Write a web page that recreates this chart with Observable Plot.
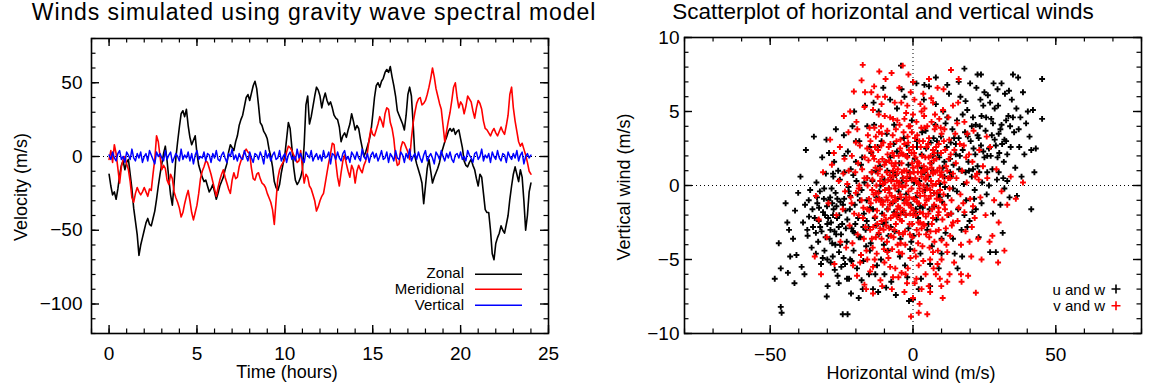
<!DOCTYPE html>
<html><head><meta charset="utf-8">
<script src="https://cdn.jsdelivr.net/npm/d3@7"></script>
<script src="https://cdn.jsdelivr.net/npm/@observablehq/plot@0.6"></script>
<style>
html,body{margin:0;padding:0;background:#fff}
#chart{position:relative;width:1153px;height:387px;overflow:hidden;font-family:"Liberation Sans",Arial,Helvetica,sans-serif;color:#000}
#chart > svg{position:absolute;top:0}
.t{position:absolute;white-space:nowrap;line-height:1;z-index:2}
</style></head><body><div id="chart"></div>
<script>
// ---------- data ----------
const leftTitle = "Winds simulated using gravity wave spectral model";
const rightTitle = "Scatterplot of horizontal and vertical winds";
const seriesNames = ["Zonal", "Meridional", "Vertical"];
const seriesColors = ["#000000", "#ff0000", "#0000ff"];
const scatterNames = ["u and w", "v and w"];
const timeTicks = [0, 5, 10, 15, 20, 25];
const velocityTicks = [-100, -50, 0, 50];
const horizTicks = [-50, 0, 50];
const vertTicks = [-10, -5, 0, 5, 10];

// samples every 0.1 h from 0 to 24 h
const zonal = [-12,-20,-26,-24,-29,-22,-13,-6,-3,-9,
 -4,-2,-12,-22,-35,-44,-53,-67,-60,-55,
 -50,-45,-42,-46,-47,-42,-37,-29,-20,-12,
 -5,2,7,-3,-15,-26,-33,-18,-1,10,
 20,29,31,27,32,21,13,8,11,14,
 2,-6,-10,-14,-17,-16,-20,-24,-22,-19,
 -24,-29,-25,-20,-17,-14,-9,-5,3,8,
 6,4,10,14,21,25,28,34,40,42,
 38,43,48,51,46,35,23,21,17,15,
 12,5,0,-7,-17,-21,-23,-19,-11,-5,
 1,12,23,19,6,-7,-16,-19,-17,-14,
 -9,8,35,41,22,27,34,41,47,45,
 41,33,39,43,38,35,37,33,28,26,
 25,20,10,14,16,13,18,22,29,24,
 18,21,19,12,6,0,3,7,11,17,
 28,40,48,50,47,51,53,57,59,57,
 61,54,48,41,31,28,25,22,18,28,
 42,47,41,22,0,-5,-9,-13,-18,-32,
 -20,-8,-2,-10,-18,-14,-11,-8,-4,2,
 6,10,13,17,19,17,19,15,17,18,
 12,6,-3,-6,-7,-4,-2,-6,-9,-15,
 -20,-12,-14,-25,-36,-38,-38,-50,-66,-70,
 -59,-55,-52,-47,-50,-52,-46,-40,-29,-20,
 -12,-7,-12,-17,-9,-14,-30,-50,-40,-24,
 -18];
const meridional = [-2,4,-4,8,2,-8,-18,-7,-2,0,
 -5,-9,-17,-28,-31,-25,-21,-24,-26,-24,
 -21,-24,-27,-22,-23,-12,-2,14,10,0,
 -9,-6,-8,-16,-19,-12,-15,-24,-28,-31,
 -35,-41,-38,-32,-27,-23,-30,-38,-43,-38,
 -33,-25,-15,-10,-7,-3,-4,-8,-12,-17,
 -22,-27,-21,-16,-12,-9,-14,-18,-22,-25,
 -16,-11,-15,-14,-7,-3,0,3,5,3,
 2,-8,-15,-16,-12,-11,-15,-18,-19,-21,
 -25,-28,-31,-36,-46,-30,-15,-9,-6,-4,
 -2,3,7,6,4,1,-1,-4,-3,4,
 -8,-18,-12,-14,-20,-22,-26,-30,-37,-34,
 -30,-27,-25,-18,-11,-4,2,9,8,-4,
 -14,-20,-11,-3,1,-5,-10,-14,-6,-9,
 -18,-10,-6,-9,-11,-6,-3,3,12,19,
 15,14,18,22,27,24,20,29,33,32,
 23,19,12,0,-6,-5,6,10,9,6,
 3,-2,12,23,30,36,39,40,35,36,
 38,42,47,53,60,54,46,41,36,32,
 21,10,17,24,30,38,47,50,40,33,
 37,35,29,34,41,39,37,31,26,33,
 38,36,32,24,19,18,16,14,17,19,
 16,14,17,20,17,15,21,28,42,47,
 33,24,17,10,7,9,5,1,-4,-10,
 -12];
const vertical = [1,-2,3,-1,-3,2,4,-2,0,-4,3,1,-2,5,-1,-3,2,-1,3,-4,
 0,2,-3,4,1,-2,-5,3,0,2,-1,-3,4,-2,1,3,-4,-1,2,0,
 -3,5,-2,1,-1,3,-3,2,-5,1,4,-2,0,-1,3,-3,2,1,-4,2,
 -1,4,-2,-3,1,3,-1,-4,2,0,5,-2,1,-3,2,-1,-2,4,0,-3,
 3,-1,-4,2,1,-2,3,0,-5,4,-1,2,-3,1,3,-2,-1,4,-3,0,
 2,-4,1,3,-2,0,-3,5,-1,2,-2,-4,3,1,-1,4,-3,0,2,-2,
 1,-3,4,-1,0,3,-5,2,1,-2,3,-1,-3,2,4,-2,0,-4,3,1,
 -2,3,-1,-3,5,0,-2,2,-4,1,3,-1,2,-3,0,4,-2,-1,3,-4,
 2,0,-3,4,-1,-2,3,1,-4,2,-1,5,-3,0,2,-2,3,-1,-4,1,
 4,-3,0,2,-1,-5,3,1,-2,4,0,-3,2,-1,3,-2,-4,1,2,-1,
 3,-2,0,-3,4,1,-1,-4,2,3,-2,0,5,-3,1,-1,2,-4,3,0,
 -2,4,-1,-3,2,1,-4,3,0,-2,2,-1,4,-3,1,3,-5,0,2,-1,
 1];

// scatter: flat (horizontal, vertical) pairs
const uwPoints = [
-48.4,-6.3,-46.3,-8.2,-46,-8.6,-47,-3.9,-46.3,-5.6,-44.6,-1.2,-43.4,-3,-43,-4.8,-41.3,-1.7,-40.2,-0.5,
-39.4,0.6,-37.5,2.4,-42,-3.6,-40.8,-4.7,-39,-5.5,-38.5,-2.5,-37.8,-1.3,-36.9,-3.4,-36,-0.3,-35.5,-4.2,
-38,-6.0,-41.5,-6.6,-36.4,-2.1,-35.2,-1.6,-37,-3.0,-44,-2.5,-43.8,-5.9,
-34.7,3.3,-33.5,-1.2,-33,-2.4,-32.6,-0.4,-32,-3.1,-31.5,-1.8,-31,-4.4,-30.5,0.8,-30.2,-7.5,-30.3,3.1,
-30,-2.6,-29.6,-1.0,-29.2,-3.6,-28.8,-5.2,-28.5,-0.2,-28,-2.0,-27.6,1.6,-27,3.8,-27.2,-4.0,-26.8,-1.4,
-26.4,-6.1,-26,-2.8,-25.6,0.4,-25.2,-3.3,-34,-4.6,-33.8,0.2,-32.2,-5.3,-31.8,1.9,-30.8,-2.0,-29.9,-6.8,
-29,-0.8,-28.3,-3.9,-27.8,-1.6,-27.4,-5.7,-26.6,-2.2,-25.9,-4.5,-25.4,-1.1,-33.2,-3.8,-31.2,-0.9,-29.4,2.2,
-28.1,-4.8,-26.2,1.0,-34.4,-2.2,-32.9,-1.5,-30.6,-3.5,-28.7,-2.5,-27.1,-0.5,-25.8,-2.0,
-24.6,-8.7,-22.9,-8.7,-24.8,-2.6,-24.3,-4.9,-24,0.9,-23.6,-1.7,-23.2,-3.8,-22.8,2.3,-22.4,-6.3,-22,-0.7,
-21.7,-7.3,-21.5,-2.9,-21.2,4.0,-20.8,-4.4,-20.4,-1.3,-20,1.6,-19.6,-5.6,-19.2,-2.2,-18.8,3.0,-18.4,-3.5,
-18,-0.3,-17.6,-7.0,-17.2,-1.9,-16.8,5.4,-16.4,-4.1,-16,0.5,-15.6,-2.8,-15.2,2.6,-23.8,-5.3,-22.6,-0.1,
-21.0,-3.1,-19.8,0.3,-18.6,-1.0,-17.4,-5.1,-16.2,-2.4,-15.4,-6.0,-24.2,3.4,-20.6,5.0,-19.0,-7.6,-17.8,1.9,
-16.6,-3.0,-23.0,-2.3,-21.8,1.1,-20.2,-2.6,-18.2,-4.7,
-14.8,-3.9,-14.4,0.9,-14,-1.6,-13.6,4.1,-13.2,-6.0,-12.8,-0.8,-12.4,2.6,-12,-3.3,-11.6,1.3,-11.2,-5.0,
-10.8,-1.9,-10.4,6.6,-10,0.4,-9.6,-2.5,-9.2,3.5,-8.8,-4.4,-8.4,-0.2,-8,1.9,-7.6,-6.5,-7.2,-1.2,
-6.8,2.8,-6.4,-3.1,-6,0.7,-5.6,5.2,-5.2,-2.0,-14.6,2.2,-13.0,-2.7,-11.8,-0.4,-10.2,-4.0,-9.0,1.0,
-7.8,-2.8,-6.6,4.1,-5.4,-0.9,-4.2,8.1,-12.2,-7.2,-9.4,-6.9,-13.8,5.6,-11.0,3.0,
-4.8,1.5,-4.4,-3.6,-4,0.2,-3.6,-1.8,-3.2,3.2,-2.8,-5.4,-2.4,-0.6,-2,2.0,-1.6,-2.9,-1.4,-7.8,
-1.2,0.9,-0.8,-1.3,-0.4,4.4,0,-7.7,0.2,-3.4,0.6,1.8,1,-0.8,1.4,3.0,1.8,-2.2,2.2,0.3,
2.6,-4.6,3,1.2,3.4,-1.5,3.8,5.8,4.2,-0.3,4.6,2.5,5,-3.0,-3.0,6.0,-1.0,-4.3,1.2,6.9,
2.8,-6.3,4.0,0.9,-2.2,2.7,0.8,-1.9,3.2,3.6,
5.4,0.6,5.6,6.7,5.8,-1.6,6.2,2.9,6.6,-4.1,7,1.0,7.4,-0.5,7.8,4.1,8.2,-2.3,8.6,2.2,
9,-5.6,9.4,0.1,9.8,3.3,10.2,-1.1,10.6,5.0,11,1.6,11.4,-3.2,11.8,2.6,12.2,-0.7,12.6,6.2,
13,0.9,13.4,-1.9,13.8,3.8,14.2,1.4,14.6,-4.6,15,2.1,6.0,-6.8,8.0,7.3,10.0,-3.6,12.0,4.6,
14.0,-0.2,9.2,1.9,11.2,-0.1,13.2,2.9,7.2,3.2,
15.4,4.4,15.8,-1.6,16.2,1.1,16.6,6.0,17,-3.0,17.4,2.4,17.8,0.1,18,7.9,18.2,3.6,18.6,-1.0,
19,5.1,19.4,1.6,19.8,-2.4,20.2,3.0,20.6,0.6,21,4.6,21.4,-0.9,21.8,2.1,22.2,6.6,22.6,7.5,
22.6,1.3,23,-3.5,23.4,4.0,23.8,7.5,23.8,2.7,24.2,0.2,24.6,5.4,25,1.9,16.0,3.2,17.2,-4.8,
19.2,3.3,20.8,-1.8,22.0,4.1,24.0,-1.2,18.4,5.7,21.2,2.5,23.2,0.9,15.6,-5.6,20.0,6.9,
25.4,3.7,25.8,-0.6,26.2,6.1,26.6,2.5,27,-4.5,27.4,4.5,27.8,1.1,28.2,6.9,28.6,3.1,29,-4.5,
29.4,0.4,29.8,5.4,30.2,2.2,30.6,-1.3,31,4.1,31.4,-3.2,31.8,1.6,32.2,6.2,32.6,3.0,33,0.3,
33.4,4.7,33.8,-0.8,34.2,2.6,34.6,5.8,35,7.5,26.0,0.9,28.0,-1.9,30.0,3.5,32.0,-0.2,34.0,4.0,
27.2,2.0,29.6,6.5,31.2,2.8,33.6,6.4,
35.4,3.6,35.8,1.2,36.2,5.2,36.8,7.3,37.2,2.6,37.6,4.6,38.5,6.3,39,2.1,39.6,4.2,40.2,5.0,
41.4,2.4,41.4,-1.6,42,5.1,42.5,0.9,43,2.5,45.2,7.2,45.2,4.5,36.4,-0.7,38.0,0.6,40.8,3.3,
-20.5,-3.2,-19.4,-0.6,-18.2,1.4,-17.4,-2.8,-16.2,-1.0,-15.1,-4.4,-14.2,0.3,-13.4,-2.2,-12.6,-5.4,-11.4,0.0,
-10.4,-2.6,-9.6,1.6,-8.6,-3.4,-7.6,0.4,-6.6,-1.8,-5.6,2.3,-4.6,-4.8,-3.6,0.5,-2.6,-2.0,-1.6,1.4,
-0.6,-3.8,0.4,0.2,1.4,2.6,2.4,-1.4,3.4,0.9,4.4,3.7,5.4,-2.6,6.4,1.5,7.4,-1.4,8.4,3.0,
9.4,-0.8,10.4,1.2,11.4,4.2,12.4,-2.0,13.4,0.6,14.4,3.2,15.4,-0.4,16.4,2.0,17.4,4.8,18.4,0.9,
-32.5,-2.8,-31.1,-0.2,-29.7,-2.2,-28.3,-1.2,-27.5,-3.1,-26.5,-0.9,-25.5,-4.0,-24.5,-1.3,-23.5,-2.9,-22.5,-0.4,
-21.5,-5.1,-20.9,0.7,-36.5,-1.0,-35.0,-2.8,-33.6,-0.8,-31.6,-4.9,-30.1,-1.4,-28.9,-3.0,-27.9,0.6,-26.9,-3.3,
-25.1,-5.5,-24.1,-0.9,-23.1,-6.3,-22.1,-1.6,
19.6,1.0,20.6,4.0,21.6,-0.3,22.6,3.4,23.6,5.8,24.6,2.3,25.6,4.6,26.6,0.0,27.6,3.4,28.6,5.2,
29.6,1.9,30.6,3.8,31.6,0.5,32.6,4.4,19.0,-2.8,21.0,1.1,23.0,3.2,25.0,6.3,27.0,5.6,29.0,2.7,
31.0,6.9,33.0,2.1,35.0,4.6,37.0,3.8,22.0,-1.6,24.0,4.7,26.0,2.0,28.0,4.2,30.0,0.9,32.0,3.1,
-12,5.0,-8,5.8,-4,6.5,0,7.0,4,6.8,8,5.5,12,6.8,16,7.0,-16,4.0,-20,3.0,
-24,2.0,-28,0.8,-14,-7.0,-10,-6.0,-6,-7.4,-2,-6.2,2,-7.0,6,-5.3,10,-4.6,14,-3.6,
18,-2.0,-18,-6.4,-22,-5.0,-26,-6.6,-30,-5.0,-34,-3.2,
-11,-1.0,-9,-1.6,-7,0.9,-5,-0.4,-3,-1.0,-1,0.5,1,-1.6,3,2.1,5,0.0,7,2.0,
9,-0.6,11,0.6,13,1.8,-13,1.0,-15,-1.5,-17,0.2,-19,-3.5,15,2.8,17,1.0,19,3.5];

const vwPoints = [
-34,-0.7,-34.4,-4.8,-27.7,2.2,-24.2,4.7,-33,-2.3,-31.5,0.9,-30.2,-3.5,-29.6,-1.2,-28.4,1.4,-27.5,-5.3,
-26.8,-2.0,-26,0.3,-25.4,-3.8,-32.2,-6.0,-29,3.1,-25.6,2.6,
-20.7,6.35,-17.6,8.15,-17,-6.7,-16.4,-7,-24.6,-1.6,-24,1.8,-23.4,-4.2,-23,0.1,-22.6,3.6,-22.2,-2.7,
-21.8,-0.8,-21.4,2.0,-21,-5.4,-20.6,-1.9,-20.2,0.9,-19.8,4.3,-19.4,-3.3,-19,-0.2,-18.6,2.7,-18.2,-4.7,
-17.8,1.1,-17.4,-1.5,-17,5.3,-16.6,-2.8,-16.2,0.5,-15.8,3.4,-15.4,-0.9,-15,-5.8,-18.0,7.1,-16.8,6.3,
-22.0,5.0,-19.6,-6.1,-23.8,-0.4,-20.0,2.9,-17.2,-3.6,-15.6,1.7,-21.2,-3.9,-18.8,0.0,-16.0,-1.6,-24.4,0.8,
-19.2,1.5,-15.2,3.9,
-14.8,-1.2,-14.6,2.3,-14.4,-3.6,-14.2,0.4,-14,5.1,-13.8,-0.6,-13.6,1.8,-13.4,-5.0,-13.2,-2.1,-13,3.3,
-12.8,0.0,-12.6,-1.7,-12.4,6.0,-12.2,2.4,-12,-3.2,-11.8,-0.9,-11.6,1.1,-11.4,-6.4,-11.2,4.0,-11,-2.4,
-10.8,0.6,-10.6,-1.3,-10.4,2.9,-10.2,-4.3,-10,1.4,-9.8,-0.3,-9.6,7.2,-9.4,-2.7,-9.2,0.9,-9,3.7,
-8.8,-1.6,-8.6,-4.9,-8.4,1.7,-8.2,-0.5,-8,4.6,-7.8,-2.2,-7.6,0.3,-7.4,-7.0,-7.2,2.2,-7,-1.1,
-6.8,-3.5,-6.6,1.3,-6.4,5.6,-6.2,-0.2,-6,-2.6,-5.8,3.0,-5.6,0.8,-5.4,-4.0,-5.2,-1.4,-5,2.0,
-14.1,-4.2,-13.1,1.2,-12.1,-0.5,-11.1,2.7,-10.1,-2.0,-9.1,-3.8,-8.1,0.7,-7.1,3.4,-6.1,-1.9,-5.1,-6.2,
-13.5,3.9,-11.5,-2.9,-9.5,1.6,-7.5,-0.7,-5.5,4.4,-12.9,-1.0,-10.9,3.5,-8.9,-1.0,-6.9,0.6,-14.5,0.9,
-12.5,-2.6,-10.5,0.1,-8.5,2.6,-6.5,-3.0,
-4.8,0.2,-4.6,-2.3,-4.4,3.1,-4.2,-0.8,-4,1.5,-3.8,-4.6,-3.6,8.1,-3.4,0.5,-3.2,-1.7,-3,2.8,
-2.8,-3.1,-2.6,0.0,-2.4,4.9,-2.2,-1.0,-2,1.9,-1.8,-5.6,-1.6,-0.4,-1.4,2.4,-1.2,-2.6,-1,0.8,
-0.8,6.3,-0.7,-8.85,-0.6,-1.5,-0.4,3.6,-0.2,-3.5,0,1.2,0.2,-0.9,0.4,2.2,0.6,-6.6,0.8,0.5,
1,-2.0,1.2,4.3,1.4,-1.1,1.6,1.6,1.8,-3.9,2,0.1,2.2,3.0,2.3,-8.0,2.4,-1.8,2.6,5.5,
2.8,0.9,3,-2.9,3.2,2.0,3.4,-0.4,3.6,-5.1,3.8,1.3,4,3.9,4.2,-1.3,4.4,0.4,4.6,-3.3,
4.8,2.6,5,-8.7,-4.5,-1.5,-3.5,2.1,-2.5,-2.0,-1.5,4.0,-0.5,-0.2,0.5,-4.4,1.5,3.4,2.5,-0.7,
3.5,1.0,4.5,-2.1,-4.1,5.6,-2.1,-6.6,0.1,7.0,1.9,-2.5,3.9,4.7,-3.9,0.9,-1.9,-1.2,0.3,0.9,
2.1,1.5,4.1,-0.7,-4.3,-3.9,-2.3,1.0,-0.3,-2.6,1.7,0.2,3.7,-2.6,
5.2,0.7,5.4,-1.9,5.6,3.2,5.8,-4.2,6,1.5,6.2,-0.7,6.4,5.9,6.6,-2.6,6.8,0.0,7,2.4,
7.2,-5.6,7.4,-1.3,7.6,3.8,7.8,0.9,8,-3.1,8.2,1.8,8.4,-0.5,8.6,6.6,8.8,-2.0,9,0.3,
9.2,4.5,9.4,-6.3,9.6,-1.0,9.8,2.2,10,-3.7,10.4,-7.6,10.4,0.6,10.8,3.0,11.2,-1.6,11.6,1.3,
12,-4.5,12.4,4.6,12.8,-0.2,13.2,2.1,13.3,7.8,13.6,-2.7,14,0.8,14.4,-5.2,14.8,3.5,5.5,-6.8,
6.5,4.3,7.5,-3.8,8.5,1.0,9.5,-0.3,10.5,5.1,11.5,-2.9,12.5,1.8,13.5,-1.0,14.5,2.4,6.2,2.0,
8.0,-6.0,10.0,3.5,12.0,-6.5,14.0,5.4,7.0,0.8,9.0,-1.8,11.0,0.2,13.0,-3.4,
16,7.2,15.2,0.5,15.6,-2.4,16.4,2.8,16.8,-4.0,17.2,1.0,17.6,-1.2,18,4.3,18.4,-3.1,18.8,0.2,
19.3,-6.1,19.6,2.1,20,-0.9,20.4,-4.8,20.8,1.6,21.2,3.7,21.6,-2.2,22,-7.25,22.4,0.8,22.8,-3.6,
23.2,2.4,23.6,-0.8,24,-5.0,24.5,1.3,15.8,5.6,17.0,-6.5,19.0,3.5,21.0,-1.4,23.0,0.4,16.6,-0.6,
18.6,1.9,20.6,-2.8,
25.4,-2.0,26,0.5,26.8,-3.8,27.8,-3.4,28.4,-1.0,29.2,1.1,30,-2.5,31,-0.4,32,-4.4,33,-1.3,
34.2,0.6,36,-0.9,38.5,0.2,27,2.6,29.8,-5.2,25.8,3.3,
-17.5,-2.2,-16.9,1.9,-16.3,-4.4,-15.9,0.0,-15.3,-1.7,-14.9,3.0,-14.3,-0.3,-13.9,-2.8,-13.3,2.6,-12.7,-4.6,
-12.3,0.8,-11.9,3.6,-11.3,-1.1,-10.7,1.8,-10.3,-3.0,-9.9,4.7,-9.3,-0.8,-8.7,0.4,-8.3,-2.9,-7.9,2.8,
-7.3,-4.3,-6.7,2.0,-6.3,-0.8,-5.7,-2.1,-5.3,1.1,-4.7,4.1,-4.3,-1.9,-3.7,-0.1,-3.3,3.6,-2.7,-4.0,
-2.3,0.3,-1.7,2.9,-1.3,-0.8,-0.9,-4.9,-0.3,1.5,0.3,-1.7,0.7,3.2,1.3,-3.0,1.7,0.9,2.3,-0.2,
2.7,2.6,3.3,-4.1,3.7,0.0,4.3,1.9,4.7,-1.0,5.3,2.8,5.7,-3.5,6.3,0.3,6.7,-1.6,7.3,1.7,
7.7,4.8,8.3,-0.9,8.7,-4.4,9.3,1.2,9.7,3.9,10.3,-2.3,10.7,-0.6,11.3,2.4,11.7,-4.0,12.3,0.5,
12.7,3.1,13.3,-1.9,
-16,-5.0,-14,-5.5,-12,4.8,-10,-5.2,-8,-5.5,-6,3.8,-4,-5.9,-2,5.4,0,4.8,2,-5.4,
4,5.2,6,-5.0,8,4.0,10,-5.0,12,-2.0,
-9.7,0.2,-8.9,2.1,-8.1,-1.3,-7.7,-3.4,-6.9,-2.0,-6.1,1.5,-5.7,0.3,-4.9,-3.2,-4.5,2.5,-3.9,-2.4,
-3.1,1.0,-2.5,-0.8,-1.9,3.3,-1.1,-3.3,-0.5,0.4,0.1,-2.0,0.9,1.9,1.5,-0.5,2.1,-3.3,2.9,3.9,
3.5,-1.9,4.1,1.0,4.9,-0.2,5.5,1.9,6.1,-3.1,6.9,0.9,7.5,-0.5,8.1,2.6,8.9,-1.5,9.5,0.7,
-7.0,1.0,-6.0,-1.0,-5.0,0.0,-4.0,2.2,-3.0,-1.2,-2.0,0.6,-1.0,-1.9,0.0,2.6,1.0,0.3,2.0,-1.2,
3.0,0.6,4.0,-2.7,5.0,1.1,6.0,-0.3,7.0,-2.2,8.0,0.1,9.0,2.8,10.0,0.9,11.0,-1.3,12.0,1.0,
-11.5,0.3,-10.5,-1.1,-9.5,-2.3,-8.5,-0.2,-7.5,1.5,-6.5,0.0,-5.5,-1.6,-4.5,-0.6,-3.5,-3.3,-2.5,2.0,
-1.5,-1.3,-0.5,2.2,0.5,-0.9,1.5,1.3,2.5,-2.5,3.5,3.0,4.5,0.5,5.5,-0.9,6.5,1.2,7.5,2.2,
-13.0,-0.5,-12.0,1.6,-11.0,-3.6,-14.0,2.0,-15.0,-3.0,-16.0,2.5,-17.0,0.5,-18.0,-1.0,-19.0,-2.0,-20.0,-0.5,
13.0,0.5,14.0,-2.5,15.0,1.5,16.0,-1.5,11.0,3.8,9.0,-3.0,7.0,-4.5,5.0,4.0,3.0,5.0,1.0,-4.8,
-1.0,4.0,-3.0,4.5,-5.0,-4.5,-7.0,4.5,-9.0,-4.5,-11.0,5.5,-13.0,-3.5,-2.6,-6.0,1.2,-6.3,4.4,-6.0,
-6.2,-5.6,8.6,-5.3,-9.8,6.0,-4.8,6.6,0.5,5.8,3.6,6.2,7.0,5.6,10.7,6.5,-13.6,6.7,-1.6,7.5,
5.6,7.2,-7.5,7.6,-11.8,7.7,-14.6,6.3,
-19.5,3.8,-21.5,-1.2,-22.5,1.0,-18.5,-5.2,17.8,2.7,19.8,-3.8,18.0,-1.8,21.8,0.6,15.5,4.2,16.8,-6.0,
12.8,-6.0,9.9,-6.8,6.0,-7.2,3.0,-7.0,-3.0,-7.2,-7.0,-6.2,-10.8,-6.8,-14.0,-7.3,2.0,-8.6,0.0,-7.6];

// ---------- helpers ----------
const hours = zonal.map((_, i) => i / 10);
const pairs = flat => d3.range(0, flat.length, 2).map(i => ({h: flat[i], w: flat[i + 1]}));
const uw = pairs(uwPoints), vw = pairs(vwPoints);
const FONT = "'Liberation Sans', Arial, Helvetica, sans-serif";
const svgStyle = `font-family:${FONT};font-size:19px;overflow:visible;background:transparent;`;
const fmt = d => String(d).replace("-", "\u2212");

// IDL-style box: inward ticks on all four sides
function frameAxes(W, H, xMajor, xMinor, yMajor, yMinor, padX, padY) {
  const M = 8, m = 4.5;
  return [
    Plot.tickX(xMajor, {insetTop: H - M, stroke: "#000", strokeWidth: 1.4}),
    Plot.tickX(xMinor, {insetTop: H - m, stroke: "#000", strokeWidth: 1.2}),
    Plot.tickX(xMajor, {insetBottom: H - M, stroke: "#000", strokeWidth: 1.4}),
    Plot.tickX(xMinor, {insetBottom: H - m, stroke: "#000", strokeWidth: 1.2}),
    Plot.tickY(yMajor, {insetRight: W - M, stroke: "#000", strokeWidth: 1.4}),
    Plot.tickY(yMinor, {insetRight: W - m, stroke: "#000", strokeWidth: 1.2}),
    Plot.tickY(yMajor, {insetLeft: W - M, stroke: "#000", strokeWidth: 1.4}),
    Plot.tickY(yMinor, {insetLeft: W - m, stroke: "#000", strokeWidth: 1.2}),
    Plot.frame({stroke: "#000", strokeWidth: 1.6}),
    Plot.axisX({anchor: "bottom", ticks: xMajor, tickSize: 0, tickPadding: padX, tickFormat: fmt, label: null, fill: "#000"}),
    Plot.axisY({anchor: "left", ticks: yMajor, tickSize: 0, tickPadding: padY, tickFormat: fmt, label: null, fill: "#000"})
  ];
}

// ---------- left panel ----------
const left = Plot.plot({
  width: 576, height: 387,
  marginLeft: 91, marginRight: 28, marginTop: 38, marginBottom: 54,
  style: svgStyle,
  x: {domain: [-1, 25]},
  y: {domain: [-120, 80]},
  marks: [
    Plot.ruleY([0], {stroke: "#000", strokeWidth: 1, strokeDasharray: "1,3"}),
    Plot.lineY(zonal, {x: hours, stroke: seriesColors[0], strokeWidth: 1.6}),
    Plot.lineY(meridional, {x: hours, stroke: seriesColors[1], strokeWidth: 1.6}),
    Plot.lineY(vertical, {x: hours, stroke: seriesColors[2], strokeWidth: 1.5}),
    ...frameAxes(457, 295, timeTicks, d3.range(-1, 26, 1), velocityTicks, d3.range(-120, 81, 10), 13, 9)
  ]
});
left.style.left = "0px";

// ---------- right panel ----------
const right = Plot.plot({
  width: 577, height: 387,
  marginLeft: 108, marginRight: 12, marginTop: 37, marginBottom: 54,
  style: svgStyle,
  x: {domain: [-80, 80]},
  y: {domain: [-10, 10]},
  marks: [
    Plot.ruleY([0], {stroke: "#000", strokeWidth: 1, strokeDasharray: "1,3"}),
    Plot.ruleX([0], {stroke: "#000", strokeWidth: 1, strokeDasharray: "1,3"}),
    Plot.dot(uw, {x: "h", y: "w", symbol: "plus", r: 2.05, stroke: seriesColors[0], strokeWidth: 1.9}),
    Plot.dot(vw, {x: "h", y: "w", symbol: "plus", r: 2.05, stroke: seriesColors[1], strokeWidth: 1.9}),
    ...frameAxes(457, 296, horizTicks, d3.range(-80, 81, 10), vertTicks, d3.range(-10, 11, 1), 14, 5)
  ]
});
right.style.left = "576px";

const chart = document.getElementById("chart");
chart.append(left, right);

// ---------- html text ----------
function addText(txt, x, y, size, anchor = "middle") {
  const d = document.createElement("div");
  d.className = "t";
  d.textContent = txt;
  d.style.fontSize = size + "px";
  d.style.left = x + "px";
  d.style.top = (y - 0.8465 * size) + "px";
  d.style.transform = anchor === "middle" ? "translateX(-50%)" : anchor === "end" ? "translateX(-100%)" : "none";
  chart.append(d);
  return d;
}
function addVText(txt, cx, cy, size) {
  const d = document.createElement("div");
  d.className = "t";
  d.textContent = txt;
  d.style.fontSize = size + "px";
  d.style.left = cx + "px";
  d.style.top = cy + "px";
  d.style.transform = "translate(-50%,-50%) rotate(-90deg)";
  chart.append(d);
}
const t1 = addText(leftTitle, 314, 20, 23); t1.style.letterSpacing = "0.9px";
addText(rightTitle, 883, 20, 22.5);
addText("Time (hours)", 287, 378, 18);
addText("Horizontal wind (m/s)", 911, 379, 18);
addVText("Velocity (m/s)", 21, 187, 18);
addVText("Vertical wind (m/s)", 624, 187, 18);

// legends (drawn in an overlay svg)
const ns = "http://www.w3.org/2000/svg";
const ov = document.createElementNS(ns, "svg");
ov.setAttribute("width", 1153); ov.setAttribute("height", 387);
ov.style.cssText = "position:absolute;left:0;top:0;z-index:2;pointer-events:none";
chart.append(ov);
function seg(d, color, w) {
  const p = document.createElementNS(ns, "path");
  p.setAttribute("d", d); p.setAttribute("stroke", color);
  p.setAttribute("stroke-width", w); p.setAttribute("fill", "none");
  ov.append(p);
}
const legendBase = [278, 294, 310], legendLineY = [274.3, 289.3, 305.3];
seriesNames.forEach((name, i) => {
  addText(name, 464, legendBase[i], 15, "end");
  seg(`M475,${legendLineY[i]}H522`, seriesColors[i], 1.5);
});
const scBase = [295, 310.5], scMid = [289, 305.7];
scatterNames.forEach((name, i) => {
  addText(name, 1105, scBase[i], 15, "end");
  seg(`M1111.5,${scMid[i]}H1120.5M1116,${scMid[i] - 4.5}V${scMid[i] + 4.5}`, seriesColors[i], 1.6);
});
</script></body></html>
